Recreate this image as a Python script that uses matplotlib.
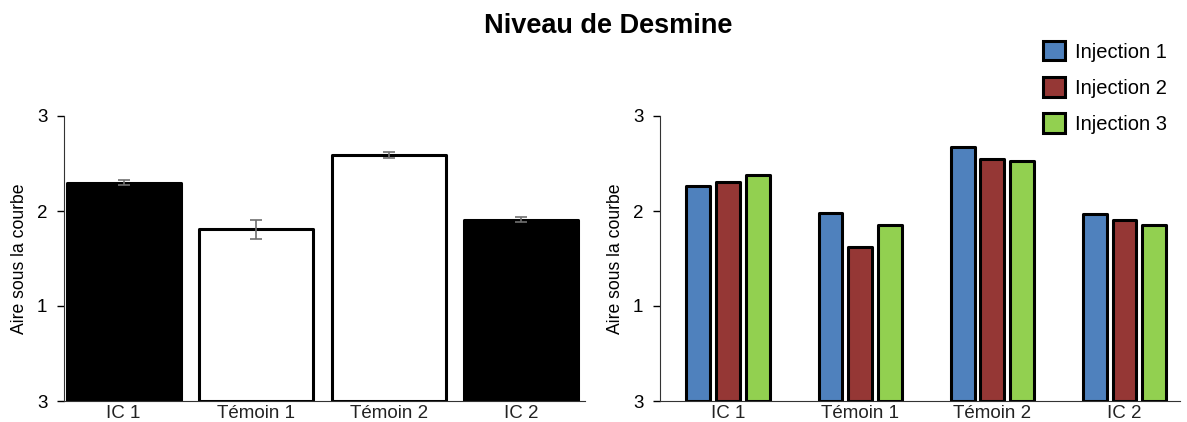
import numpy as np
import matplotlib.pyplot as plt

plt.rcParams['font.family'] = ['Liberation Sans', 'DejaVu Sans']

# --- data ---
categories = ['IC 1', 'Témoin 1', 'Témoin 2', 'IC 2']
mean_values = [2.30, 1.81, 2.59, 1.91]
mean_errors = [0.03, 0.10, 0.03, 0.03]
mean_colors = ['black', 'white', 'white', 'black']

series_names = ['Injection 1', 'Injection 2', 'Injection 3']
injection_1 = [2.26, 1.98, 2.67, 1.97]
injection_2 = [2.31, 1.62, 2.55, 1.91]
injection_3 = [2.38, 1.85, 2.53, 1.85]
series_colors = ['#4f81bd', '#953735', '#92d050']

y_ticks = [0, 1, 2, 3]
y_ticklabels = ['3', '1', '2', '3']

fig = plt.figure(figsize=(11.87, 4.22), dpi=100)
ax1 = fig.add_axes([64 / 1187, 21 / 422, 521 / 1187, 285 / 422])
ax2 = fig.add_axes([660 / 1187, 21 / 422, 520 / 1187, 285 / 422])

x = np.arange(len(categories))

# left: means with error bars
ax1.bar(x, mean_values, width=0.86, color=mean_colors, edgecolor='black',
        linewidth=2.2, joinstyle='round')
ax1.errorbar(x, mean_values, yerr=mean_errors, fmt='none', ecolor='#707070',
             elinewidth=1.2, capsize=4, capthick=1.2)
ax1.set_xlim(-0.45, 3.48)

# right: one bar per injection
bw = 0.18
step = 0.225
for i, (vals, name, col) in enumerate(zip([injection_1, injection_2, injection_3],
                                          series_names, series_colors)):
    ax2.bar(x + (i - 1) * step, vals, width=bw, color=col, edgecolor='black',
            linewidth=2.2, joinstyle='round', label=name)
ax2.set_xlim(-0.515, 3.42)

for ax in (ax1, ax2):
    ax.set_ylim(0, 3)
    ax.set_yticks(y_ticks)
    ax.set_yticklabels(y_ticklabels)
    ax.set_xticks(x)
    ax.set_xticklabels(categories, fontsize=13.5, color='#222222')
    ax.tick_params(axis='x', length=0, pad=3)
    ax.tick_params(axis='y', length=5, width=1, labelsize=13.5, pad=7)
    for s in ('top', 'right'):
        ax.spines[s].set_visible(False)
    ax.spines['left'].set_color('#333333')
    ax.spines['bottom'].set_color('#333333')
    ax.set_ylabel('Aire sous la courbe', fontsize=12.7, labelpad=6)

fig.text(0.512, 0.938, 'Niveau de Desmine', ha='center', va='center',
         fontsize=19.5, fontweight='bold')

leg = fig.legend(loc='upper left', bbox_to_anchor=(1043 / 1187, 1 - 41 / 422),
                 frameon=False, fontsize=14.5, handlelength=1.1, handleheight=1.1,
                 handletextpad=0.5, labelspacing=0.78, borderpad=0,
                 borderaxespad=0)

fig.savefig('out.png', dpi=100)
